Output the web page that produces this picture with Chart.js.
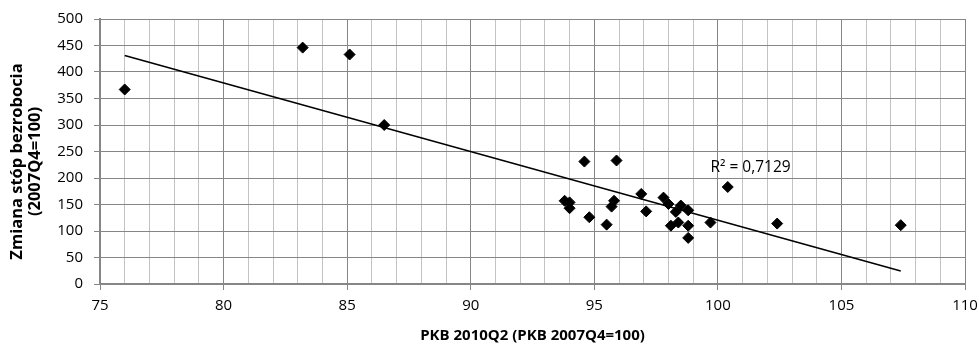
<!DOCTYPE html>
<html>
<head>
<meta charset="utf-8">
<script src="https://cdn.jsdelivr.net/npm/chart.js@4/dist/chart.umd.min.js"></script>
<style>
html,body{margin:0;padding:0;background:#fff;}
#wrap{width:979px;height:345px;position:relative;}
</style>
</head>
<body>
<div id="wrap"><canvas id="c" width="979" height="345"></canvas></div>
<script>
// PKB 2010Q2 (PKB 2007Q4=100)
const gdpValues = [76.0, 83.2, 85.1, 86.5, 94.6, 95.9, 93.8, 94.0, 94.0, 94.8, 95.5, 95.7, 95.8, 96.9, 97.1, 97.8, 98.0, 98.1, 98.3, 98.4, 98.5, 98.8, 98.8, 98.8, 99.7, 100.4, 102.4, 107.4];
// Zmiana stóp bezrobocia (2007Q4=100)
const unemploymentValues = [367, 446, 433, 300, 231, 233, 157, 154, 143, 126, 112, 146, 157, 170, 137, 163, 151, 110, 136, 116, 148, 139, 110, 87, 116, 183, 114, 111];
const xAxisTitle = 'PKB 2010Q2 (PKB 2007Q4=100)';
const yAxisTitle = ['Zmiana stóp bezrobocia', '(2007Q4=100)'];
const rSquaredLabel = 'R² = 0,7129';
const rSquaredAnchor = [99.7, 219];

const points = gdpValues.map((x, i) => ({x: x, y: unemploymentValues[i]}));

// least-squares linear trend over the data
const n = gdpValues.length;
const mx = gdpValues.reduce((a, b) => a + b, 0) / n;
const my = unemploymentValues.reduce((a, b) => a + b, 0) / n;
let sxy = 0, sxx = 0;
for (let i = 0; i < n; i++) {
  sxy += (gdpValues[i] - mx) * (unemploymentValues[i] - my);
  sxx += (gdpValues[i] - mx) * (gdpValues[i] - mx);
}
const slope = sxy / sxx;
const intercept = my - slope * mx;
const xMin = Math.min(...gdpValues), xMax = Math.max(...gdpValues);
const trend = [{x: xMin, y: intercept + slope * xMin}, {x: xMax, y: intercept + slope * xMax}];

const FONT = "'Open Sans', 'DejaVu Sans', sans-serif";

const textPlugin = {
  id: 'extraText',
  afterDatasetsDraw(chart) {
    const ctx = chart.ctx;
    const px = chart.scales.x.getPixelForValue(rSquaredAnchor[0]);
    const py = chart.scales.y.getPixelForValue(rSquaredAnchor[1]);
    ctx.save();
    ctx.font = '15.5px ' + FONT;
    ctx.fillStyle = '#000';
    ctx.textBaseline = 'middle';
    ctx.textAlign = 'left';
    ctx.fillText(rSquaredLabel, px, py);
    ctx.restore();
  },
  afterDraw(chart) {
    // vertical axis title, two lines, rotated
    const ctx = chart.ctx;
    const cy = (chart.chartArea.top + chart.chartArea.bottom) / 2 + 10;
    ctx.save();
    ctx.font = 'bold 16.5px ' + FONT;
    ctx.fillStyle = '#000';
    ctx.textAlign = 'center';
    ctx.textBaseline = 'middle';
    const xs = [17, 35];
    yAxisTitle.forEach((line, i) => {
      ctx.save();
      ctx.translate(xs[i], cy);
      ctx.rotate(-Math.PI / 2);
      ctx.fillText(line, 0, 0);
      ctx.restore();
    });
    ctx.restore();
  }
};

new Chart(document.getElementById('c'), {
  type: 'scatter',
  data: {
    datasets: [
      {
        label: 'dane',
        data: points,
        pointStyle: 'rectRot',
        pointRadius: 5.5,
        pointHoverRadius: 5.5,
        backgroundColor: '#000',
        borderColor: '#000',
        borderWidth: 1,
        order: 1
      },
      {
        label: 'trend',
        data: trend,
        showLine: true,
        pointRadius: 0,
        borderColor: '#000',
        borderWidth: 1.5,
        fill: false,
        order: 2
      }
    ]
  },
  options: {
    responsive: false,
    animation: false,
    devicePixelRatio: 1,
    layout: {padding: {top: 19, right: 14, left: 0, bottom: 0}},
    plugins: {legend: {display: false}, tooltip: {enabled: false}},
    scales: {
      x: {
        type: 'linear',
        min: 75, max: 110,
        afterFit(s) { s.height = 61; s.paddingRight = 0; s.paddingLeft = 0; },
        ticks: {
          stepSize: 1,
          autoSkip: false,
          maxRotation: 0,
          padding: 7,
          color: '#000',
          font: {family: FONT, size: 15},
          callback: v => (v % 5 === 0 ? String(v) : '')
        },
        grid: {
          color: ctx => (ctx.tick && ctx.tick.value % 5 === 0 ? '#868686' : '#c3c3c3'),
          tickColor: ctx => (ctx.tick && ctx.tick.value % 5 === 0 ? '#868686' : 'rgba(0,0,0,0)'),
          tickLength: 6,
          lineWidth: 1
        },
        border: {color: '#868686', width: 2},
        title: {
          display: true,
          text: xAxisTitle,
          color: '#000',
          font: {family: FONT, size: 15, weight: 'bold'},
          padding: {top: 0, bottom: 0}
        }
      },
      y: {
        type: 'linear',
        min: 0, max: 500,
        afterFit(s) { s.width = 100; s.paddingTop = 0; s.paddingBottom = 0; },
        ticks: {
          stepSize: 50,
          padding: 11,
          color: '#000',
          font: {family: FONT, size: 15}
        },
        grid: {
          color: '#868686',
          tickColor: '#868686',
          tickLength: 6,
          lineWidth: 1
        },
        border: {color: '#868686', width: 2},
        title: {display: false}
      }
    }
  },
  plugins: [textPlugin]
});
</script>
</body>
</html>
